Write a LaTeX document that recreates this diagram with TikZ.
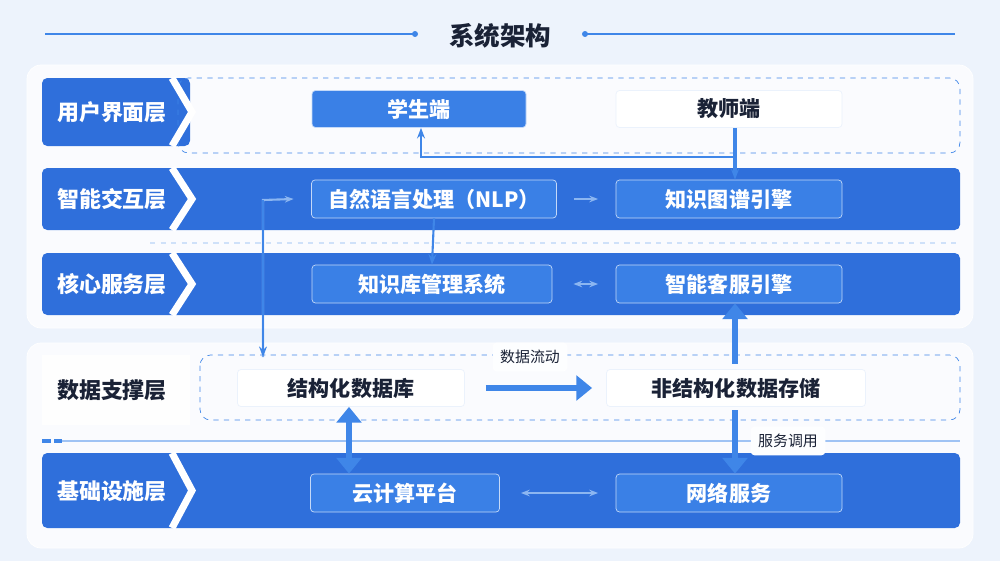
\documentclass[tikz,border=0pt]{standalone}
\usepackage{fontspec}
\setmainfont{Noto Sans CJK SC}
\usetikzlibrary{positioning,arrows.meta}
\definecolor{bgc}{HTML}{EDF3FC}
\definecolor{bluec}{HTML}{2F6FDB}
\definecolor{boxb}{HTML}{3A80E6}
\definecolor{linec}{HTML}{3F86E8}
\definecolor{darkt}{HTML}{1A2236}
\begin{document}
\begin{tikzpicture}[x=0.02cm,y=-0.02cm,
  panel/.style={fill=white,fill opacity=0.75,rounded corners=8pt,draw=white},
  bar/.style={fill=bluec,rounded corners=3pt},
  tab/.style={text=white,font=\bfseries\fontsize{12.5}{14}\selectfont,anchor=center},
  tabD/.style={tab,text=darkt},
  boxB/.style={fill=boxb,draw=white!70!boxb,rounded corners=2pt,text=white,font=\bfseries\fontsize{12}{14}\selectfont},
  boxW/.style={fill=white,draw=white!90!boxb,rounded corners=2pt,text=darkt,font=\bfseries\fontsize{12}{14}\selectfont},
  dashbox/.style={draw=linec,dashed,rounded corners=6pt},
  link/.style={draw=linec,line width=1.2pt,-{Stealth[length=6pt]}},
  light/.style={draw=linec!60,line width=1.2pt},
  fat/.style={draw=linec,line width=3.5pt,-{Triangle[length=9pt,width=14pt]}},
  tag/.style={fill=white!90!bgc,draw=white,rounded corners=2pt,text=darkt,font=\fontsize{8.5}{10}\selectfont,inner sep=4pt}]
\fill[bgc] (0,0) rectangle (1000,561);
\useasboundingbox (0,0) rectangle (1000,561);

% title
\node[text=darkt,font=\bfseries\fontsize{14.5}{16}\selectfont] (title) at (500,36) {系统架构};
\draw[linec,line width=1pt] (45,34) -- (415,34) (585,34) -- (955,34);
\fill[linec] (415,34) circle (3) (585,34) circle (3);

% panels
\draw[panel] (27,65) rectangle (973,328);
\draw[panel] (27,343) rectangle (973,548);

% layers
\fill[bar] (42,78) rectangle (190,146);
\draw[dashbox] (178,78) rectangle (960,153);
\fill[bar] (42,168) rectangle (960,230);
\fill[bar] (42,253) rectangle (960,315);
\fill[white,opacity=0.8] (42,355) rectangle (190,425);
\draw[dashbox] (200,355) rectangle (960,420);
\fill[bar] (42,453) rectangle (960,528);
\foreach \ya/\yb in {78/146,168/230,253/315,453/528}
  \draw[white,line width=4pt] (172,\ya) -- (192,{(\ya+\yb)/2}) -- (172,\yb);
\draw[linec!25,dashed,line width=1pt] (150,243) -- (960,243);
\draw[linec!50,line width=1pt] (62,441) -- (960,441);
\draw[linec,line width=2pt,dash pattern=on 5pt off 2pt] (42,441) -- (62,441);

\node[tab] (lUI) at (112,112) {用户界面层};
\node[tab] (lIA) at (112,199) {智能交互层};
\node[tab] (lCS) at (112,284) {核心服务层};
\node[tabD] (lDS) at (112,390) {数据支撑层};
\node[tab] (lIF) at (112,491) {基础设施层};

% boxes
\node[boxB,minimum width=214*0.02cm,minimum height=37*0.02cm] (stu) at (419,109) {学生端};
\node[boxW,minimum width=226*0.02cm,minimum height=37*0.02cm] (tea) at (729,109) {教师端};
\node[boxB,minimum width=245*0.02cm,minimum height=38*0.02cm] (nlp) at (434,199) {自然语言处理（NLP）};
\node[boxB,minimum width=226*0.02cm,minimum height=38*0.02cm] (kg) at (729,199) {知识图谱引擎};
\node[boxB,minimum width=240*0.02cm,minimum height=38*0.02cm] (kb) at (432,284) {知识库管理系统};
\node[boxB,minimum width=226*0.02cm,minimum height=38*0.02cm] (cs) at (729,284) {智能客服引擎};
\node[boxW,minimum width=227*0.02cm,minimum height=37*0.02cm] (sdb) at (351,388) {结构化数据库};
\node[boxW,minimum width=259*0.02cm,minimum height=37*0.02cm] (uds) at (736,388) {非结构化数据存储};
\node[boxB,minimum width=189*0.02cm,minimum height=38*0.02cm] (cloud) at (405,493) {云计算平台};
\node[boxB,minimum width=226*0.02cm,minimum height=38*0.02cm] (net) at (729,493) {网络服务};

% connectors
\coordinate (tj) at (735,157);
\coordinate (sj) at (421,157);
\coordinate (lt) at (263,200);
\coordinate (lb) at (263,357);
\coordinate (cx) at (349,0);
\draw[link,line width=2.5pt] (tea.south -| tj) -- (kg.north -| tj);
\draw[link] (tj) -- (sj) -- (stu.south -| sj);
\draw[light,-{Stealth[length=5pt]}] (lb) -- (lt) -- ([xshift=-10pt]nlp.west);
\draw[link] (lt) -- (lb);
\draw[light,-{Stealth[length=5pt]}] ([xshift=10pt]nlp.east) -- ([xshift=-10pt]kg.west);
\draw[link] (nlp.south) -- (kb.north);
\draw[light,{Stealth[length=5pt]}-{Stealth[length=5pt]}] ([xshift=12pt]kb.east) -- ([xshift=-10pt]cs.west);
\draw[fat] ([yshift=3pt]uds.north -| tj) -- (cs.south -| tj);
\draw[fat] ([xshift=12pt]sdb.east) -- ([xshift=-8pt]uds.west);
\draw[fat,{Triangle[length=9pt,width=14pt]}-{Triangle[length=9pt,width=14pt]}] (sdb.south -| cx) -- (cloud.north -| cx);
\draw[fat] ([yshift=-2pt]uds.south -| tj) -- (net.north -| tj);
\draw[light,{Stealth[length=5pt]}-{Stealth[length=5pt]}] ([xshift=12pt]cloud.east) -- ([xshift=-10pt]net.west);
\node[tag] (flow) at (530,357) {数据流动};
\node[tag] (call) at (788,441) {服务调用};
\end{tikzpicture}
\end{document}
